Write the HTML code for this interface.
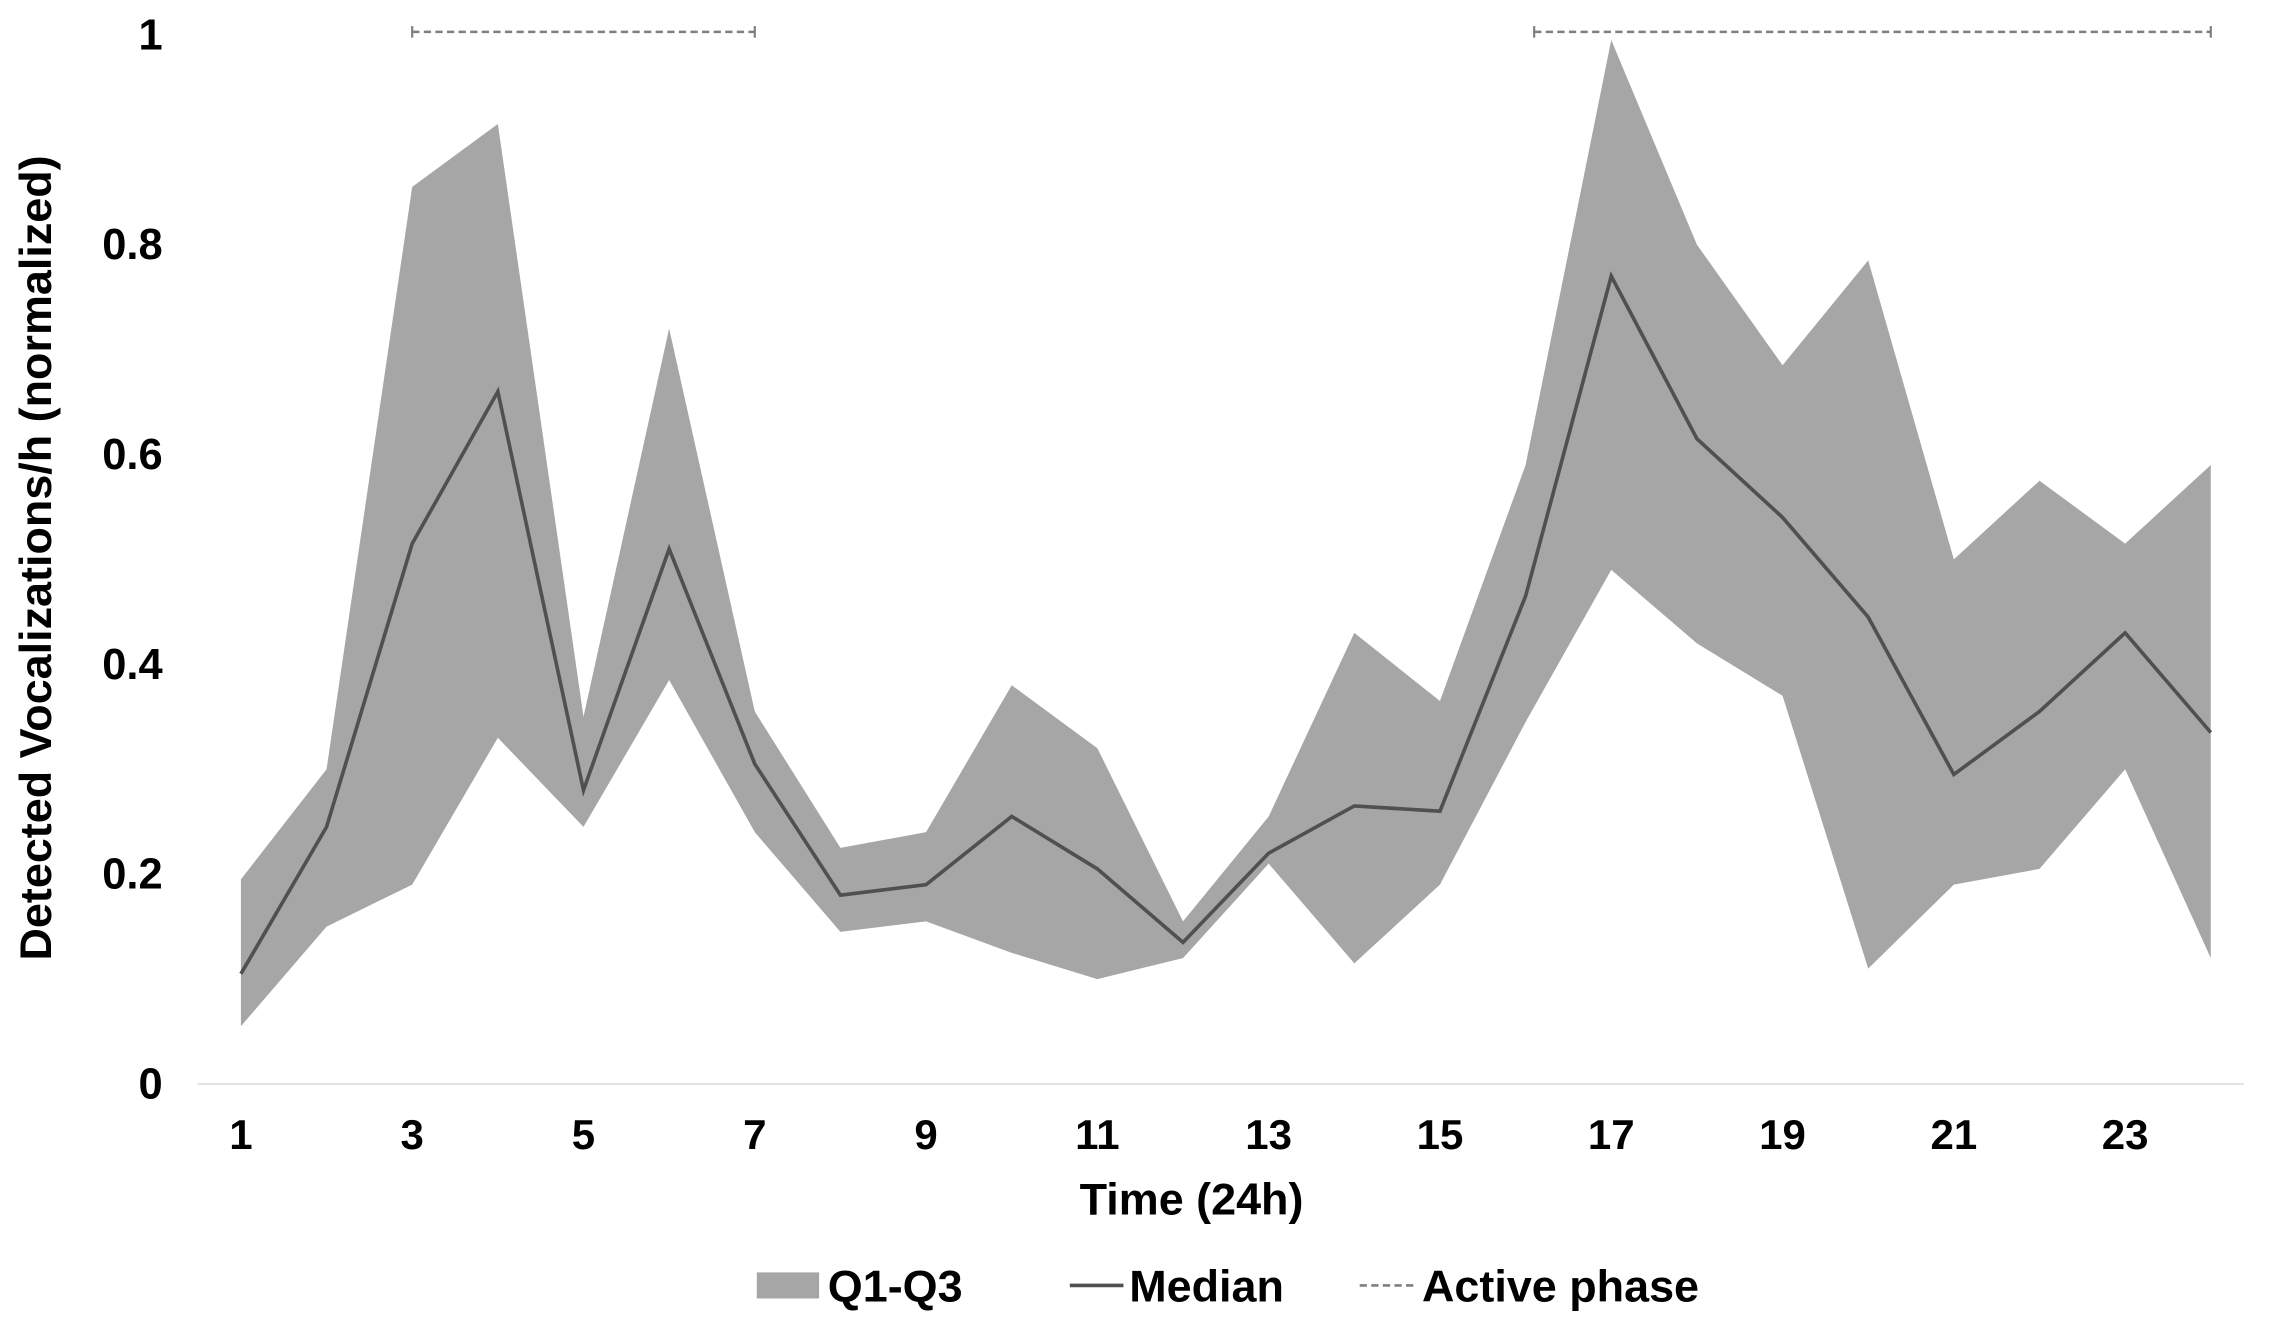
<!DOCTYPE html>
<html><head><meta charset="utf-8"><style>
html,body{margin:0;padding:0;background:#fff;}
svg text{font-family:"Liberation Sans",Arial,sans-serif;font-weight:bold;fill:#000;}
</style></head><body>
<svg width="2273" height="1326" viewBox="0 0 1568 915">
<g id="g"></g>
</svg>
<script>
const hours=[1,2,3,4,5,6,7,8,9,10,11,12,13,14,15,16,17,18,19,20,21,22,23,24];
const q3=[0.195,0.30,0.855,0.915,0.35,0.72,0.355,0.225,0.24,0.38,0.32,0.155,0.255,0.43,0.365,0.59,0.995,0.80,0.685,0.785,0.50,0.575,0.515,0.59];
const q1=[0.055,0.15,0.19,0.33,0.245,0.385,0.24,0.145,0.155,0.125,0.10,0.12,0.21,0.115,0.19,0.345,0.49,0.42,0.37,0.11,0.19,0.205,0.30,0.12];
const median=[0.105,0.245,0.515,0.66,0.28,0.51,0.305,0.18,0.19,0.255,0.205,0.135,0.22,0.265,0.26,0.465,0.77,0.615,0.54,0.445,0.295,0.355,0.43,0.335];
const yTicks=[0,0.2,0.4,0.6,0.8,1];
const yTickLabels=["0","0.2","0.4","0.6","0.8","1"];
const xTicks=[1,3,5,7,9,11,13,15,17,19,21,23];
const activePhases=[[3,7],[16.1,24]];
const X=h=>166+(h-1)*59.1;
const Y=v=>748-v*724;
const NS="http://www.w3.org/2000/svg";
const g=document.getElementById('g');
function mk(t,a,txt){const e=document.createElementNS(NS,t);for(const k in a)e.setAttribute(k,a[k]);if(txt!==undefined)e.textContent=txt;g.appendChild(e);return e;}
let pts=hours.map((h,i)=>X(h)+','+Y(q3[i]));
for(let i=hours.length-1;i>=0;i--)pts.push(X(hours[i])+','+Y(q1[i]));
let e=mk('polygon',{points:pts.join(' '),fill:'#a6a6a6'});


e=mk('line',{x1:136,x2:1548,y1:748,y2:748,stroke:'#d9d9d9','stroke-width':1});


e=mk('polyline',{points:hours.map((h,i)=>X(h)+','+Y(median[i])).join(' '),fill:'none',stroke:'#505050','stroke-width':2.5});


activePhases.forEach(p=>{
 const a=X(p[0]),b=X(p[1]),y=22;
 e=mk('line',{x1:a,x2:b,y1:y,y2:y,stroke:'#7f7f7f','stroke-width':1.8,'stroke-dasharray':'5,3'});
 
 
 mk('line',{x1:a,x2:a,y1:y-4,y2:y+4,stroke:'#7f7f7f','stroke-width':1.5});
 mk('line',{x1:b,x2:b,y1:y-4,y2:y+4,stroke:'#7f7f7f','stroke-width':1.5});
});
yTicks.forEach((v,i)=>{
 e=mk('text',{x:112,y:Y(v)+10,'text-anchor':'end','font-size':30},yTickLabels[i]);
 
 
});
xTicks.forEach(h=>{
 e=mk('text',{x:X(h),y:793,'text-anchor':'middle','font-size':29},String(h));
 
 
});
e=mk('text',{x:822,y:838,'text-anchor':'middle','font-size':31},'Time (24h)');


e=mk('text',{x:0,y:0,'text-anchor':'middle','font-size':31,transform:'translate(35,385) rotate(-90)'},'Detected Vocalizations/h (normalized)');


e=mk('rect',{x:522,y:878,width:43,height:18,fill:'#a6a6a6'});


e=mk('text',{x:571,y:898,'font-size':31},'Q1-Q3');


e=mk('line',{x1:738,x2:775,y1:887,y2:887,stroke:'#505050','stroke-width':2.5});


e=mk('text',{x:779,y:898,'font-size':31},'Median');


e=mk('line',{x1:938,x2:975,y1:887,y2:887,stroke:'#7f7f7f','stroke-width':1.8,'stroke-dasharray':'5,3'});


e=mk('text',{x:981,y:898,'font-size':31},'Active phase');


</script>
</body></html>
